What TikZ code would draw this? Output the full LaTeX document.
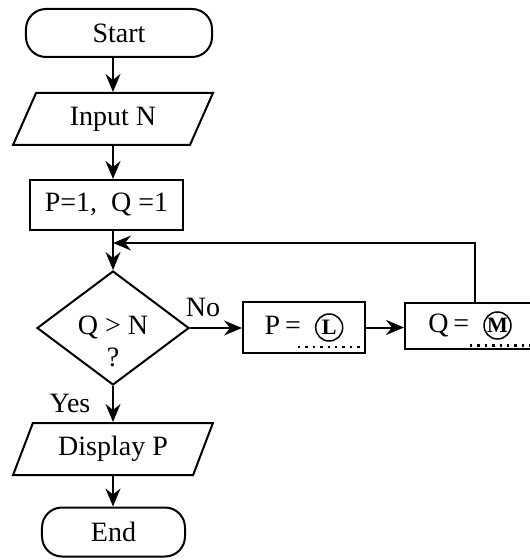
\documentclass[tikz,border=0pt]{standalone}
\usepackage{fontspec}
\setmainfont{Liberation Serif}
\usetikzlibrary{shapes.geometric,arrows.meta}
\tikzset{
  txt/.style={inner sep=0,font=\fontsize{28bp}{32bp}\selectfont},
  box/.style={txt,draw,line width=2bp},
  term/.style={box,rounded corners=20bp},
  io/.style={box,trapezium,trapezium left angle=62,trapezium right angle=118,trapezium stretches=true},
  test/.style={box,diamond},
  flow/.style={line width=2bp,-{Stealth[length=18bp,width=15bp,inset=6bp]}},
  dots/.style={line width=2.4bp,dash pattern=on 2.4bp off 5bp}
}
\newcommand{\circled}[1]{\tikz[baseline=(c.base)]\node[draw,circle,line width=1.5bp,inner sep=0pt,minimum size=27bp,rounded corners=0pt,font=\bfseries\fontsize{22bp}{24bp}\selectfont] (c) {#1};}
\begin{document}
\begin{tikzpicture}[x=1bp,y=-1bp]
\clip (0,0) rectangle (530,560);
\coordinate (col) at (113,0);
\node [term,minimum width=186bp,minimum height=48bp] (start) at (119,33) {Start};
\node [io,minimum width=200bp,minimum height=52bp] (inp) at (113,119) {Input N};
\node [box,minimum width=153bp,minimum height=50bp] (init) at (106.5,205) {P=1,\ \ Q =1};
\node [test,minimum width=152bp,minimum height=114bp,label={[txt,align=center,yshift=-13bp]center:Q > N\\?}] (chk) at (113,328) {};
\node [io,minimum width=200bp,minimum height=52bp] (disp) at (113,449) {Display P};
\node [term,minimum width=143bp,minimum height=49bp] (end) at (113.5,532) {End};
\node [box,minimum width=122bp,minimum height=51bp] (pl) at (304,327.5) {P\hspace{5bp}=\hspace{14bp}\circled{L}};
\node [box,minimum width=130bp,minimum height=46bp] (qm) at (470,325.5) {Q\hspace{5bp}=\hspace{14bp}\circled{M}};
\node [txt] (yes) at (70,403) {Yes};
\node [txt] (no) at (203,307) {No};
\coordinate (back) at (113,243);

\draw [flow] (start.south -| col) -- (inp.north -| col);
\draw [flow] (inp.south -| col) -- (init.north -| col);
\draw [flow] (init.south -| col) -- (chk.north);
\draw [flow] (chk.south) -- (disp.north -| chk.south);
\draw [flow] (disp.south -| col) -- (end.north -| col);
\draw [flow] (chk.east) -- (pl.west |- chk.east);
\draw [flow] (pl.east) -- (qm.west |- pl.east);
\draw [flow] ([xshift=5bp]qm.north) |- (back);

\draw [dots] ([xshift=-68bp,yshift=7bp]pl.south east) -- ([xshift=-5bp,yshift=7bp]pl.south east);
\draw [dots] ([yshift=4bp]qm.south) -- ([yshift=4bp]qm.south east);
\end{tikzpicture}
\end{document}
